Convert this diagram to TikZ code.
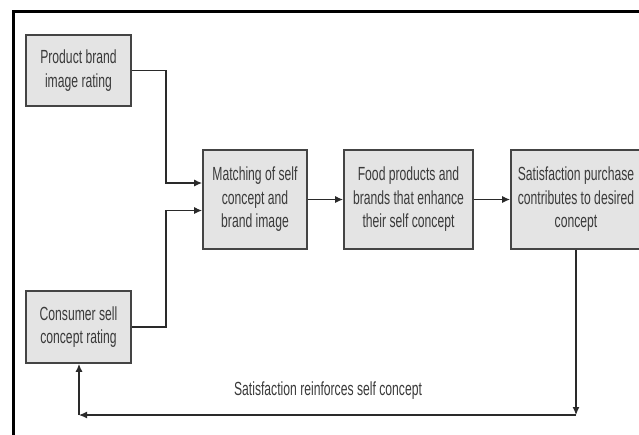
\documentclass[tikz,border=0pt]{standalone}
\usepackage{fontspec}
\setmainfont{Liberation Sans}[FakeStretch=0.64]
\usetikzlibrary{arrows.meta,calc}
\definecolor{boxfill}{HTML}{E4E4E4}
\definecolor{boxline}{HTML}{444444}
\definecolor{txt}{HTML}{3A3A3A}
\definecolor{wire}{HTML}{2A2A2A}
\tikzset{
  blk/.style={draw=boxline, line width=1.8pt, fill=boxfill, align=center,
    text=txt, inner sep=2pt, font=\fontsize{19}{23.5}\selectfont},
  arr/.style={draw=wire, line width=1.2pt, -{Latex[length=8pt,width=7pt]}},
  lbl/.style={text=txt, font=\fontsize{19}{23}\selectfont}
}
\begin{document}
\begin{tikzpicture}[x=1pt,y=-1pt]
\useasboundingbox (0,0) rectangle (639,434);
\clip (0,0) rectangle (639,434);
\fill[white] (0,0) rectangle (639,434);
% outer frame
\draw[line width=3pt, black] (13,450) -- (13,11) -- (660,11);
% boxes
\node[blk, minimum width=105pt, minimum height=71pt] (b1) at (78.5,70.5) {Product brand\\image rating};
\node[blk, minimum width=105pt, minimum height=72pt] (b2) at (78.5,327) {Consumer sell\\concept rating};
\node[blk, minimum width=104pt, minimum height=99pt] (b3) at (255,199.5) {Matching of self\\concept and\\brand image};
\node[blk, minimum width=129pt, minimum height=99pt] (b4) at (408.5,199.5) {Food products and\\brands that enhance\\their self concept};
\node[blk, minimum width=130pt, minimum height=99pt] (b5) at (576,199.5) {Satisfaction purchase\\contributes to desired\\concept};
% connectors
\draw[arr] (b1.east) -- ++(34,0) |- ([yshift=16.5pt]b3.west);
\draw[arr] (b2.east) -- ++(34,0) |- ([yshift=-11pt]b3.west);
\draw[arr] (b3.east) -- (b4.west);
\draw[arr] (b4.east) -- (b5.west);
\coordinate (c1) at (576,415);
\coordinate (c2) at (79,415);
\draw[arr] (b5.south) -- (c1);
\draw[arr] (c1) -- (c2);
\draw[arr] (c2) -- (c2 |- b2.south);
\node[lbl] (t) at (328,391) {Satisfaction reinforces self concept};
\end{tikzpicture}
\end{document}
